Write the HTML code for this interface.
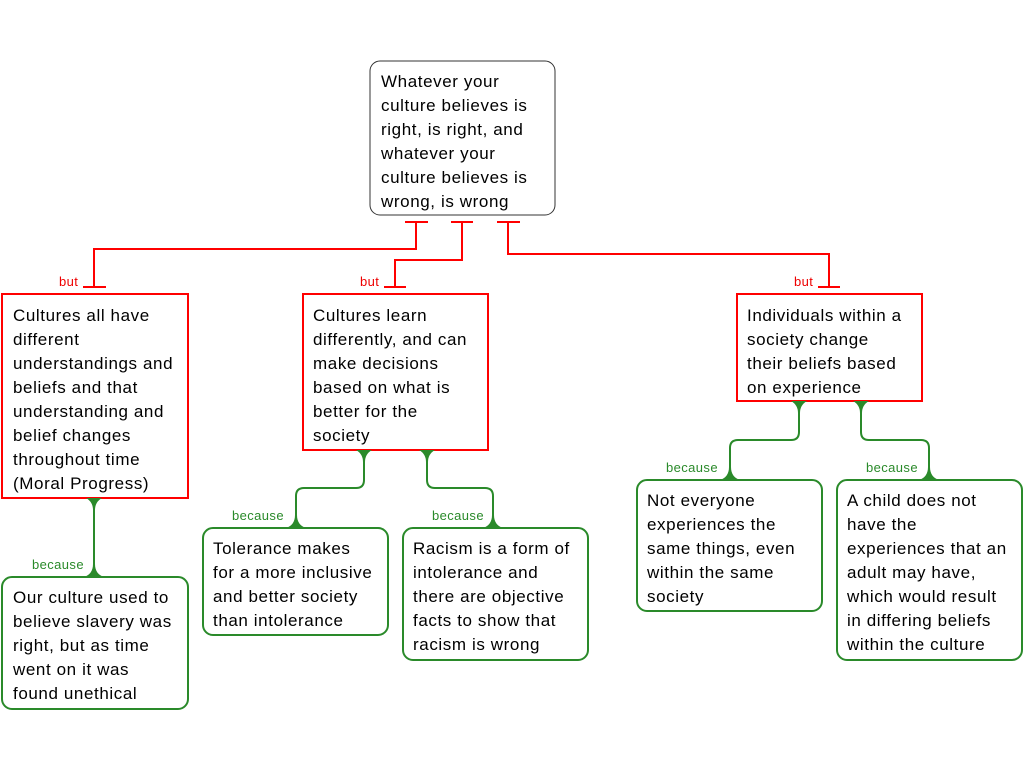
<!DOCTYPE html>
<html><head><style>
html,body{margin:0;padding:0;background:#fff;width:1024px;height:768px;overflow:hidden}
svg text{font-family:"Liberation Sans",Arial,sans-serif}
.t{font-size:17px;fill:#000;letter-spacing:0.6px}
.r{font-size:13px;fill:#e00;letter-spacing:0.4px}
.g{font-size:13px;fill:#2a8a2a;letter-spacing:0.4px}
</style></head><body>
<svg width="1024" height="768" xmlns="http://www.w3.org/2000/svg">
<g fill="none" stroke="#f00" stroke-width="2">
<path d="M405 222H428M451 222H473M497 222H520"/>
<path d="M416 223V249H94V287M83 287H106"/>
<path d="M462 223V260H395V287M384 287H406"/>
<path d="M508 223V254H829V287M818 287H840"/>
<rect x="2" y="294" width="186" height="204"/>
<rect x="303" y="294" width="185" height="156"/>
<rect x="737" y="294" width="185" height="107"/>
</g>
<rect x="370" y="61" width="185" height="154" rx="10" fill="#fff" stroke="#333" stroke-width="1"/>
<g fill="none" stroke="#2a8a2a" stroke-width="2">
<rect x="2" y="577" width="186" height="132" rx="10"/>
<rect x="203" y="528" width="185" height="107" rx="10"/>
<rect x="403" y="528" width="185" height="132" rx="10"/>
<rect x="637" y="480" width="185" height="131" rx="10"/>
<rect x="837" y="480" width="185" height="180" rx="10"/>
<path d="M94 499V576"/>
<path d="M364 451V480Q364 488 356 488H304Q296 488 296 496V527"/>
<path d="M427 451V480Q427 488 435 488H485Q493 488 493 496V527"/>
<path d="M799 402V432Q799 440 791 440H738Q730 440 730 448V479"/>
<path d="M861 402V432Q861 440 869 440H921Q929 440 929 448V479"/>
</g>
<g fill="#2a8a2a">
<path d="M86 498H102Q95 502 95 510H93Q93 502 86 498Z"/>
<path d="M84 577H104Q95 574 95 564H93Q93 574 84 577Z"/>
<path d="M356 450H372Q365 454 365 462H363Q363 454 356 450Z"/>
<path d="M419 450H435Q428 454 428 462H426Q426 454 419 450Z"/>
<path d="M286 528H306Q297 525 297 515H295Q295 525 286 528Z"/>
<path d="M483 528H503Q494 525 494 515H492Q492 525 483 528Z"/>
<path d="M791 401H807Q800 405 800 413H798Q798 405 791 401Z"/>
<path d="M853 401H869Q862 405 862 413H860Q860 405 853 401Z"/>
<path d="M720 480H740Q731 477 731 467H729Q729 477 720 480Z"/>
<path d="M919 480H939Q930 477 930 467H928Q928 477 919 480Z"/>
</g>
<text class="r" x="59" y="286">but</text>
<text class="r" x="360" y="286">but</text>
<text class="r" x="794" y="286">but</text>
<text class="g" x="32" y="569">because</text>
<text class="g" x="232" y="520">because</text>
<text class="g" x="432" y="520">because</text>
<text class="g" x="666" y="472">because</text>
<text class="g" x="866" y="472">because</text>
<text class="t">
<tspan x="381" y="87">Whatever your</tspan><tspan x="381" dy="24">culture believes is</tspan><tspan x="381" dy="24">right, is right, and</tspan><tspan x="381" dy="24">whatever your</tspan><tspan x="381" dy="24">culture believes is</tspan><tspan x="381" dy="24">wrong, is wrong</tspan>
</text>
<text class="t">
<tspan x="13" y="321">Cultures all have</tspan><tspan x="13" dy="24">different</tspan><tspan x="13" dy="24">understandings and</tspan><tspan x="13" dy="24">beliefs and that</tspan><tspan x="13" dy="24">understanding and</tspan><tspan x="13" dy="24">belief changes</tspan><tspan x="13" dy="24">throughout time</tspan><tspan x="13" dy="24">(Moral Progress)</tspan>
</text>
<text class="t">
<tspan x="313" y="321">Cultures learn</tspan><tspan x="313" dy="24">differently, and can</tspan><tspan x="313" dy="24">make decisions</tspan><tspan x="313" dy="24">based on what is</tspan><tspan x="313" dy="24">better for the</tspan><tspan x="313" dy="24">society</tspan>
</text>
<text class="t">
<tspan x="747" y="321">Individuals within a</tspan><tspan x="747" dy="24">society change</tspan><tspan x="747" dy="24">their beliefs based</tspan><tspan x="747" dy="24">on experience</tspan>
</text>
<text class="t">
<tspan x="13" y="603">Our culture used to</tspan><tspan x="13" dy="24">believe slavery was</tspan><tspan x="13" dy="24">right, but as time</tspan><tspan x="13" dy="24">went on it was</tspan><tspan x="13" dy="24">found unethical</tspan>
</text>
<text class="t">
<tspan x="213" y="554">Tolerance makes</tspan><tspan x="213" dy="24">for a more inclusive</tspan><tspan x="213" dy="24">and better society</tspan><tspan x="213" dy="24">than intolerance</tspan>
</text>
<text class="t">
<tspan x="413" y="554">Racism is a form of</tspan><tspan x="413" dy="24">intolerance and</tspan><tspan x="413" dy="24">there are objective</tspan><tspan x="413" dy="24">facts to show that</tspan><tspan x="413" dy="24">racism is wrong</tspan>
</text>
<text class="t">
<tspan x="647" y="506">Not everyone</tspan><tspan x="647" dy="24">experiences the</tspan><tspan x="647" dy="24">same things, even</tspan><tspan x="647" dy="24">within the same</tspan><tspan x="647" dy="24">society</tspan>
</text>
<text class="t">
<tspan x="847" y="506">A child does not</tspan><tspan x="847" dy="24">have the</tspan><tspan x="847" dy="24">experiences that an</tspan><tspan x="847" dy="24">adult may have,</tspan><tspan x="847" dy="24">which would result</tspan><tspan x="847" dy="24">in differing beliefs</tspan><tspan x="847" dy="24">within the culture</tspan>
</text>
</svg>
</body></html>
